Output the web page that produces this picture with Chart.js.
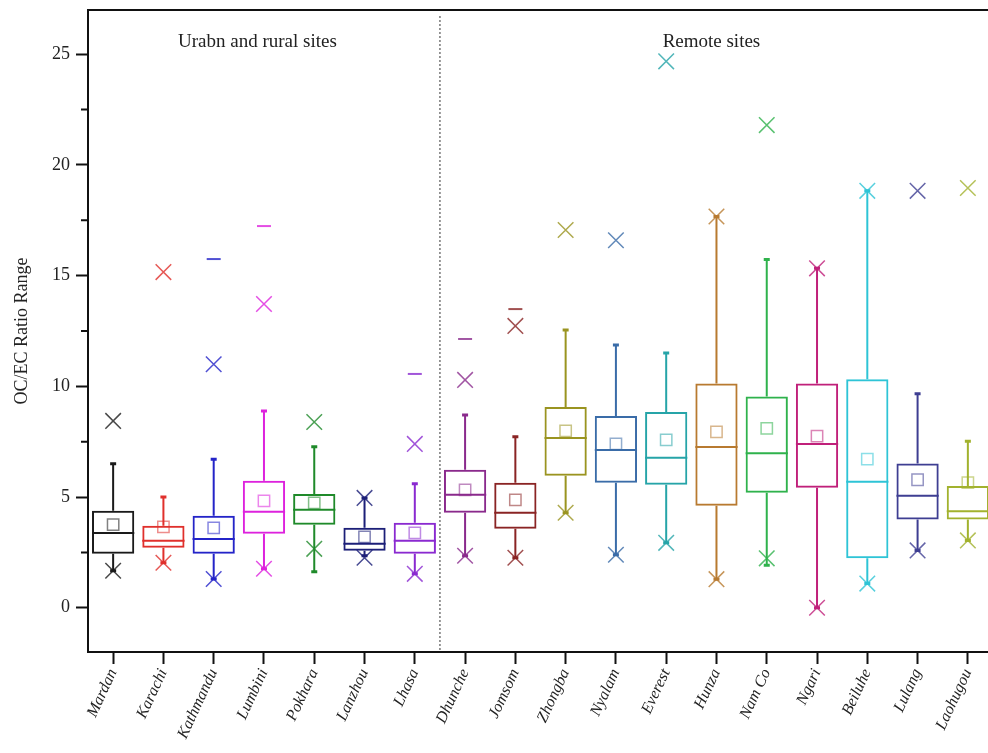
<!DOCTYPE html>
<html>
<head>
<meta charset="utf-8">
<script src="https://cdn.jsdelivr.net/npm/chart.js@4.4.1/dist/chart.umd.min.js"></script>
<style>
    html, body { margin: 0; padding: 0; background: #fff; overflow: hidden; }
    canvas { display: block; }
</style>
</head>
<body>
<canvas id="chart" width="1000" height="753"></canvas>
<script>
// ---- data ----
const SITES = ['Mardan', 'Karachi', 'Kathmandu', 'Lumbini', 'Pokhara', 'Lanzhou', 'Lhasa',
    'Dhunche', 'Jomsom', 'Zhongba', 'Nyalam', 'Everest', 'Hunza', 'Nam Co', 'Ngari',
    'Beiluhe', 'Lulang', 'Laohugou'];

const Q1 = [2.44, 2.71, 2.44, 3.34, 3.75, 2.57, 2.44, 4.29, 3.57, 5.96, 5.64, 5.55, 4.61, 5.19, 5.42, 2.23, 3.99, 3.99];
const MEDIAN = [3.38, 3.02, 3.11, 4.33, 4.42, 2.89, 3.02, 5.10, 4.29, 7.67, 7.13, 6.77, 7.26, 6.98, 7.40, 5.69, 5.06, 4.36];
const Q3 = [4.38, 3.70, 4.15, 5.73, 5.14, 3.61, 3.84, 6.23, 5.64, 9.07, 8.66, 8.84, 10.13, 9.54, 10.13, 10.32, 6.51, 5.50];
const WHISKER_LOW = [1.67, 2.03, 1.30, 1.76, 1.62, 2.35, 1.53, 2.35, 2.26, 4.29, 2.39, 2.93, 1.29, 1.92, 0.00, 1.09, 2.59, 3.04];
const WHISKER_HIGH = [6.50, 5.00, 6.71, 8.89, 7.27, 4.96, 5.60, 8.71, 7.72, 12.55, 11.87, 11.51, 17.67, 15.73, 15.33, 18.83, 9.67, 7.52];
const MEAN = [3.75, 3.65, 3.61, 4.83, 4.74, 3.20, 3.38, 5.32, 4.87, 7.99, 7.40, 7.58, 7.94, 8.10, 7.75, 6.71, 5.78, 5.65];
const P1 = [1.67, 2.03, 1.30, 1.76, 2.66, 2.26, 1.53, 2.35, 2.26, 4.29, 2.39, 2.93, 1.29, 2.23, 0.00, 1.09, 2.59, 3.04];
const P99 = [8.44, 15.16, 11.00, 13.72, 8.39, 4.96, 7.40, 10.29, 12.73, 17.06, 16.60, 24.68, 17.67, 21.80, 15.33, 18.83, 18.83, 18.96];
const MAX_VALUE = [null, null, 15.75, 17.24, null, null, 10.56, 12.14, 13.49, null, null, null, null, null, null, null, null, null];

const Y_TICKS = [0, 5, 10, 15, 20, 25];
const Y_MINOR = [2.5, 7.5, 12.5, 17.5, 22.5];
const URBAN_COUNT = 7;
const GROUP_TITLES = ['Urabn and rural sites', 'Remote sites'];

const COLORS = ['#1a1a1a', '#e0302c', '#2424c8', '#dd22dd', '#1f8a2a', '#1c1f78', '#8a2ad0',
    '#8a2a8c', '#8a2424', '#9a9420', '#3a6ca8', '#26a4a8', '#b87a30', '#2fb24c', '#c0207a',
    '#2ec4d6', '#3e3e92', '#a2b22e'];

const FONT = '"Liberation Serif", "Times New Roman", serif';

function fade(hex, a) {
    const n = parseInt(hex.slice(1), 16);
    return `rgba(${(n >> 16) & 255}, ${(n >> 8) & 255}, ${n & 255}, ${a})`;
}

// whiskers, caps, medians, minor ticks, frame, divider and group titles
const boxExtras = {
    id: 'boxExtras',
    afterDatasetsDraw(chart) {
        const { ctx, chartArea: area, scales: { x, y } } = chart;
        const bars = chart.getDatasetMeta(0).data;
        ctx.save();
        ctx.lineCap = 'butt';
        SITES.forEach((_, i) => {
            const cx = x.getPixelForValue(i);
            const half = bars[i].width / 2;
            ctx.strokeStyle = COLORS[i];
            ctx.lineWidth = 2;
            ctx.beginPath();
            ctx.moveTo(cx, y.getPixelForValue(Q3[i]));
            ctx.lineTo(cx, y.getPixelForValue(WHISKER_HIGH[i]));
            ctx.moveTo(cx, y.getPixelForValue(Q1[i]));
            ctx.lineTo(cx, y.getPixelForValue(WHISKER_LOW[i]));
            ctx.moveTo(cx - half, y.getPixelForValue(MEDIAN[i]));
            ctx.lineTo(cx + half, y.getPixelForValue(MEDIAN[i]));
            ctx.stroke();
            // small caps on whisker ends
            ctx.lineWidth = 3;
            ctx.beginPath();
            [WHISKER_HIGH[i], WHISKER_LOW[i]].forEach(v => {
                const py = y.getPixelForValue(v);
                ctx.moveTo(cx - 3, py);
                ctx.lineTo(cx + 3, py);
            });
            ctx.stroke();
        });

        // frame top
        ctx.strokeStyle = '#111';
        ctx.lineWidth = 2;
        ctx.beginPath();
        ctx.moveTo(area.left - 1, area.top);
        ctx.lineTo(area.right, area.top);
        ctx.lineTo(area.right, area.bottom);
        ctx.stroke();

        // minor ticks on the y axis
        ctx.beginPath();
        Y_MINOR.forEach(v => {
            const py = y.getPixelForValue(v);
            ctx.moveTo(area.left, py);
            ctx.lineTo(area.left - 7, py);
        });
        ctx.stroke();

        // dotted divider between the two site groups
        const dx = x.getPixelForValue(URBAN_COUNT - 0.5);
        ctx.strokeStyle = '#555';
        ctx.lineWidth = 1.2;
        ctx.setLineDash([2, 2]);
        ctx.beginPath();
        ctx.moveTo(dx, area.top + 6);
        ctx.lineTo(dx, area.bottom);
        ctx.stroke();
        ctx.setLineDash([]);

        // group titles
        ctx.fillStyle = '#222';
        ctx.font = `19px ${FONT}`;
        ctx.textAlign = 'center';
        ctx.textBaseline = 'middle';
        ctx.fillText(GROUP_TITLES[0], x.getPixelForValue(2.87), area.top + 32);
        ctx.fillText(GROUP_TITLES[1], x.getPixelForValue(11.9), area.top + 32);
        ctx.restore();
    }
};

const markerBase = { type: 'line', showLine: false, pointHoverRadius: 0, clip: false };

new Chart(document.getElementById('chart'), {
    type: 'bar',
    data: {
        labels: SITES,
        datasets: [
            {
                label: 'box',
                data: SITES.map((_, i) => [Q1[i], Q3[i]]),
                backgroundColor: 'rgba(0,0,0,0)',
                borderColor: COLORS,
                borderWidth: 2,
                borderSkipped: false,
                barPercentage: 0.84,
                categoryPercentage: 1
            },
            {
                ...markerBase,
                label: 'mean',
                data: MEAN,
                pointStyle: 'rect',
                pointRadius: 8,
                pointBorderWidth: 1.5,
                pointBackgroundColor: 'rgba(0,0,0,0)',
                pointBorderColor: COLORS.map(c => fade(c, 0.55))
            },
            {
                ...markerBase,
                label: '1%',
                data: P1,
                pointStyle: 'crossRot',
                pointRadius: 11,
                pointBorderWidth: 1.5,
                pointBorderColor: COLORS.map(c => fade(c, 0.8))
            },
            {
                ...markerBase,
                label: '99%',
                data: P99,
                pointStyle: 'crossRot',
                pointRadius: 11,
                pointBorderWidth: 1.5,
                pointBorderColor: COLORS.map(c => fade(c, 0.8))
            },
            {
                ...markerBase,
                label: 'max',
                data: MAX_VALUE,
                pointStyle: 'line',
                pointRadius: 7,
                pointBorderWidth: 2,
                pointBorderColor: COLORS.map(c => fade(c, 0.8))
            }
        ]
    },
    options: {
        responsive: false,
        maintainAspectRatio: false,
        devicePixelRatio: 1,
        animation: false,
        events: [],
        layout: { autoPadding: false, padding: { left: 0, right: 7, top: 10, bottom: 0 } },
        plugins: { legend: { display: false }, tooltip: { enabled: false } },
        scales: {
            x: {
                type: 'category',
                offset: true,
                grid: { drawOnChartArea: false, drawTicks: true, tickLength: 12, tickWidth: 2, tickColor: '#111', offset: false },
                border: { color: '#111', width: 2 },
                ticks: {
                    autoSkip: false,
                    minRotation: 65,
                    maxRotation: 65,
                    padding: 2,
                    color: '#222',
                    font: { family: FONT, size: 16, style: 'italic' }
                },
                afterFit(scale) {
                    scale.height = 101;
                    scale.paddingLeft = 0;
                    scale.paddingRight = 0;
                }
            },
            y: {
                min: -2,
                max: 27,
                afterBuildTicks(scale) { scale.ticks = Y_TICKS.map(v => ({ value: v })); },
                grid: { drawOnChartArea: false, drawTicks: true, tickLength: 12, tickWidth: 2, tickColor: '#111' },
                border: { color: '#111', width: 2 },
                ticks: { padding: 6, color: '#222', font: { family: FONT, size: 18 } },
                title: {
                    display: true,
                    text: 'OC/EC Ratio Range',
                    color: '#222',
                    font: { family: FONT, size: 18 },
                    padding: { top: 11, bottom: 4 }
                },
                afterFit(scale) {
                    scale.width = 88;
                    scale.paddingTop = 0;
                    scale.paddingBottom = 0;
                }
            }
        }
    },
    plugins: [boxExtras]
});
</script>
</body>
</html>
